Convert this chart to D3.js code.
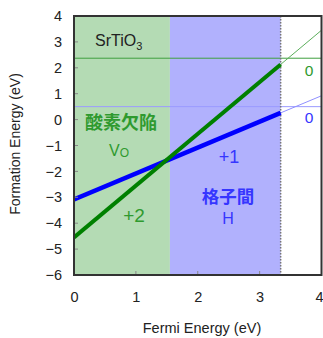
<!DOCTYPE html>
<html>
<head>
<meta charset="utf-8">
<script src="https://cdn.jsdelivr.net/npm/d3@7"></script>
<style>
  html, body { margin: 0; padding: 0; background: #fff; }
  svg { display: block; font-family: "Liberation Sans", Arial, "Noto Sans CJK JP", sans-serif; }
</style>
</head>
<body>
<svg id="chart" width="323" height="338"></svg>
<script>
// Formation energy of defects in SrTiO3 versus Fermi level
const xTicks = [0, 1, 2, 3, 4];
const yTicks = [4, 3, 2, 1, 0, -1, -2, -3, -4, -5, -6];
const bandGap = 3.34;                       // conduction band edge (eV)
const regionBounds = [0, 1.55, 3.34];       // Fermi ranges where each defect dominates
const regionNames = ["酸素欠陥", "格子間"];
// charged-state lines: [Fermi energy, formation energy]
const vacancyCharged = [[0, -4.55], [3.34, 2.13], [4, 3.45]];   // V_O, +2
const hydrogenCharged = [[0, -3.08], [3.34, 0.26], [4, 0.92]];  // H, +1
const vacancyNeutral = 2.37;   // V_O, 0
const hydrogenNeutral = 0.5;   // H, 0

const svg = d3.select("#chart");
const m = { left: 74, right: 321.5, top: 16, bottom: 275 };
const x = d3.scaleLinear().domain([0, 4]).range([m.left, m.right]);
const y = d3.scaleLinear().domain([-6, 4]).range([m.bottom, m.top]);

const green = "#008000", blue = "#0000ff";
const greenText = "#2f9a2f", blueText = "#3636ff";

const defs = svg.append("defs");
defs.append("clipPath").attr("id", "plot")
  .append("rect").attr("x", m.left).attr("y", m.top)
  .attr("width", m.right - m.left).attr("height", m.bottom - m.top);

const g = svg.append("g").attr("clip-path", "url(#plot)");

// dominant-defect regions
g.append("rect").attr("x", x(regionBounds[0])).attr("y", m.top)
  .attr("width", x(regionBounds[1]) - x(regionBounds[0])).attr("height", m.bottom - m.top)
  .attr("fill", "#b4dbb4");
g.append("rect").attr("x", x(regionBounds[1])).attr("y", m.top)
  .attr("width", x(regionBounds[2]) - x(regionBounds[1])).attr("height", m.bottom - m.top)
  .attr("fill", "#b1b1fd");

// neutral-state levels
g.append("line").attr("x1", x(0)).attr("x2", x(4))
  .attr("y1", y(vacancyNeutral)).attr("y2", y(vacancyNeutral))
  .attr("stroke", "#3f9f3f").attr("stroke-width", 1);
g.append("line").attr("x1", x(0)).attr("x2", x(4))
  .attr("y1", y(hydrogenNeutral)).attr("y2", y(hydrogenNeutral))
  .attr("stroke", "#9a9aff").attr("stroke-width", 1);

// band edge
g.append("line").attr("x1", x(bandGap)).attr("x2", x(bandGap))
  .attr("y1", m.top).attr("y2", m.bottom)
  .attr("stroke", "#777").attr("stroke-width", 1.5).attr("stroke-dasharray", "1.5,1.5");

const line = d3.line().x(d => x(d[0])).y(d => y(d[1]));
// thin continuation beyond the band gap
g.append("path").attr("d", line(vacancyCharged.slice(1))).attr("fill", "none")
  .attr("stroke", "#5cae5c").attr("stroke-width", 1);
g.append("path").attr("d", line(hydrogenCharged.slice(1))).attr("fill", "none")
  .attr("stroke", "#8f8fff").attr("stroke-width", 1);
// thick lines inside the gap
g.append("path").attr("d", line(hydrogenCharged.slice(0, 2))).attr("fill", "none")
  .attr("stroke", blue).attr("stroke-width", 4.5);
g.append("path").attr("d", line(vacancyCharged.slice(0, 2))).attr("fill", "none")
  .attr("stroke", green).attr("stroke-width", 4);

// axes (ticks inside the frame)
const yAxis = d3.axisLeft(y).tickValues(yTicks).tickSize(0).tickPadding(12)
  .tickFormat(d => d < 0 ? "\u2212" + Math.abs(d) : d);
const yG = svg.append("g").attr("transform", `translate(${m.left},0)`).call(yAxis);
yG.select(".domain").remove();
yG.selectAll("text").attr("font-size", 14.5).attr("fill", "#222");

const xAxis = d3.axisBottom(x).tickValues(xTicks).tickSize(0).tickPadding(17)
  .tickFormat(d3.format("d"));
const xG = svg.append("g").attr("transform", `translate(0,${m.bottom})`).call(xAxis);
xG.select(".domain").remove();
xG.selectAll("text").attr("font-size", 14.5).attr("fill", "#222");
// last label sits at the window edge; nudge it inward so it stays readable
xG.selectAll("text").filter(d => d === 4).attr("text-anchor", "end").attr("x", 1.5);

svg.append("g").selectAll("line").data(yTicks.slice(1, -1)).join("line")
  .attr("x1", m.left).attr("x2", m.left + 4)
  .attr("y1", d => y(d)).attr("y2", d => y(d))
  .attr("stroke", "#888").attr("stroke-width", 1);
svg.append("g").selectAll("line").data(xTicks.slice(1, -1)).join("line")
  .attr("x1", d => x(d)).attr("x2", d => x(d))
  .attr("y1", m.bottom).attr("y2", m.bottom - 4)
  .attr("stroke", "#888").attr("stroke-width", 1);

// frame
svg.append("rect").attr("x", m.left).attr("y", m.top)
  .attr("width", m.right - m.left).attr("height", m.bottom - m.top)
  .attr("fill", "none").attr("stroke", "#333").attr("stroke-width", 2);

// axis titles
svg.append("text").attr("x", 202).attr("y", 333).attr("text-anchor", "middle")
  .attr("font-size", 14.5).attr("fill", "#222").text("Fermi Energy (eV)");
svg.append("text").attr("transform", "translate(20,144) rotate(-90)").attr("text-anchor", "middle")
  .attr("font-size", 14).attr("fill", "#222").text("Formation Energy (eV)");

// annotations
const sr = svg.append("text").attr("x", 95).attr("y", 46).attr("font-size", 16).attr("fill", "#222");
sr.append("tspan").text("SrTiO");
sr.append("tspan").attr("font-size", 11).attr("dy", 4).text("3");

const cjk = '"Noto Sans CJK JP", sans-serif';
svg.append("text").attr("x", 121).attr("y", 129).attr("text-anchor", "middle")
  .attr("font-family", cjk).attr("font-weight", "bold").attr("font-size", 18)
  .attr("fill", greenText).text(regionNames[0]);
const vo = svg.append("text").attr("x", 119).attr("y", 156).attr("text-anchor", "middle")
  .attr("font-size", 16).attr("fill", greenText);
vo.append("tspan").text("V");
vo.append("tspan").attr("font-size", 12).attr("dy", 1).text("O");

svg.append("text").attr("x", 134).attr("y", 222).attr("text-anchor", "middle")
  .attr("font-size", 19).attr("fill", greenText).text("+2");
svg.append("text").attr("x", 229).attr("y", 163).attr("text-anchor", "middle")
  .attr("font-size", 18).attr("fill", blueText).text("+1");

svg.append("text").attr("x", 228).attr("y", 203).attr("text-anchor", "middle")
  .attr("font-family", cjk).attr("font-weight", "bold").attr("font-size", 17.5)
  .attr("fill", blueText).text(regionNames[1]);
svg.append("text").attr("x", 228).attr("y", 224).attr("text-anchor", "middle")
  .attr("font-size", 16).attr("fill", blueText).text("H");

svg.append("text").attr("x", 309).attr("y", 76).attr("text-anchor", "middle")
  .attr("font-size", 15.5).attr("fill", greenText).text("0");
svg.append("text").attr("x", 309).attr("y", 123).attr("text-anchor", "middle")
  .attr("font-size", 15.5).attr("fill", blueText).text("0");
</script>
</body>
</html>
